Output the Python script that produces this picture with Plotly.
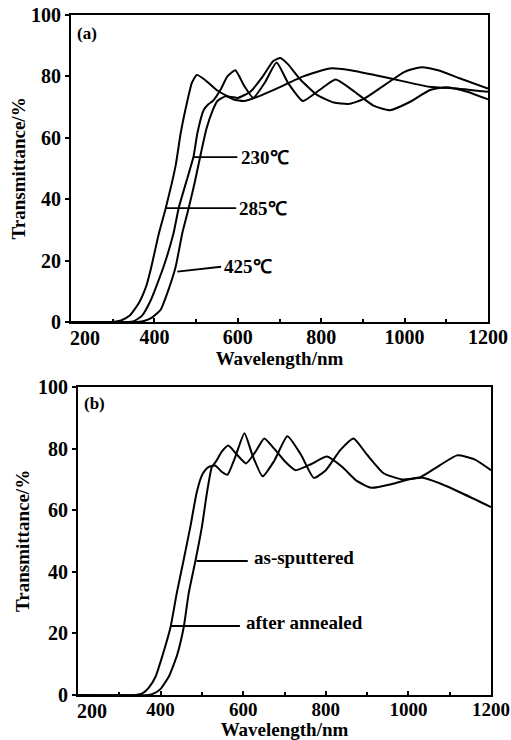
import plotly.graph_objects as go

# ---------------- Panel (a) data ----------------
wl_a_285 = [200, 300, 320, 340, 362, 380, 391, 411, 427, 451, 463, 479, 490, 502, 520, 550, 590, 615,
            650, 693, 757, 821, 870, 964, 1059, 1130, 1200]
tr_a_285 = [0, 0, 0.5, 2, 6, 11.5, 17, 29, 37, 51, 61.5, 72, 78, 80.5, 79, 75.5, 72.5, 72,
            73.5, 76, 80, 82.6, 82, 79.4, 76.6, 76, 75]

wl_a_230 = [200, 330, 351, 370, 391, 422, 446, 458, 475, 494, 503, 518, 530, 540, 560, 575, 594, 615,
            637, 665, 693, 720, 756, 795, 835, 880, 925, 965, 1010, 1060, 1100, 1150, 1200]
tr_a_230 = [0, 0, 0.3, 2, 7, 18, 29, 37, 45, 54, 61.5, 69, 71, 72, 76, 80, 82, 77,
            73, 78, 84.5, 78, 72, 75.5, 79, 75, 70.5, 69, 71.5, 75.5, 76.5, 75, 72.5]

wl_a_425 = [200, 360, 375, 395, 415, 435, 451, 467, 482, 496, 510, 525, 540, 551, 570, 600, 630, 660,
            685, 702, 720, 750, 790, 830, 865, 900, 950, 1000, 1040, 1080, 1130, 1200]
tr_a_425 = [0, 0, 0.3, 1.5, 4, 11, 18, 29, 37, 45, 54, 63, 69, 72, 73.5, 73, 75, 80,
            85, 86, 84, 79, 74, 71.5, 71, 72.5, 77, 81.5, 83, 82, 79.5, 76]

# ---------------- Panel (b) data ----------------
wl_b_ann = [200, 340, 356, 372, 388, 405, 424, 439, 456, 472, 487, 499, 508, 516, 532, 548, 562, 580,
            603, 622, 647, 675, 707, 740, 771, 800, 835, 867, 900, 940, 985, 1030, 1075, 1118, 1160, 1200]
tr_b_ann = [0, 0, 0.5, 2.5, 6, 13, 22, 33, 44, 54.6, 65.5, 71, 73, 74, 74.5, 72.5, 71.5, 77,
            85, 78, 71, 76, 84, 78, 70.5, 73, 79.5, 83.3, 78, 72, 70, 70.8, 74.5, 77.8, 76.5, 73]

wl_b_asp = [200, 370, 384, 400, 420, 440, 456, 468, 485, 500, 512, 524, 535, 548, 564, 585, 607, 630,
            651, 675, 700, 727, 765, 803, 840, 875, 910, 960, 1000, 1034, 1080, 1130, 1200]
tr_b_asp = [0, 0, 0.5, 2, 6, 13, 22, 33, 44, 54.6, 65.5, 74, 76, 79, 81, 78, 75.2, 79,
            83.3, 80, 76, 73, 75, 77.4, 74, 69.5, 67.3, 68.5, 70, 70.5, 68.5, 65.5, 61]

x_ticks = [400, 600, 800, 1000, 1200]
x_first_tick = 200
y_ticks = [0, 20, 40, 60, 80, 100]

FONT = "Liberation Serif"
line_style = dict(color="black", width=2, shape="spline", smoothing=0.5)

fig = go.Figure()
for wl, tr, name in [(wl_a_285, tr_a_285, "285℃"), (wl_a_230, tr_a_230, "230℃"), (wl_a_425, tr_a_425, "425℃")]:
    fig.add_trace(go.Scatter(x=wl, y=tr, mode="lines", line=line_style, name=name,
                             xaxis="x", yaxis="y", showlegend=False))
for wl, tr, name in [(wl_b_ann, tr_b_ann, "after annealed"), (wl_b_asp, tr_b_asp, "as-sputtered")]:
    fig.add_trace(go.Scatter(x=wl, y=tr, mode="lines", line=line_style, name=name,
                             xaxis="x2", yaxis="y2", showlegend=False))

W, H = 511, 740


def dx(px):
    return px / W


def dy(py):
    return 1 - py / H


tick_font = dict(family=FONT, size=20, color="black", weight="bold")
tick_font_b = dict(family=FONT, size=19, color="black", weight="bold")
title_font = dict(family=FONT, size=19, color="black", weight="bold")
axis_common = dict(showline=True, linecolor="black", linewidth=2, mirror=True, showgrid=False,
                   zeroline=False, automargin=False, ticklabeloverflow="allow",
                   tickfont=tick_font, tickcolor="black")

xa = dict(axis_common, range=[200, 1200], tickvals=x_ticks, ticks="inside", ticklen=4, tickwidth=1.5,
          ticklabelstandoff=-4,
          minor=dict(ticks="inside", ticklen=3, tickvals=[200, 300, 500, 700, 900, 1100], tickcolor="black"),
          title=dict(text="Wavelength/nm", font=title_font, standoff=0))
ya = dict(axis_common, range=[0, 100], tickvals=y_ticks, ticks="outside", ticklen=4, tickwidth=1.5)

fig.update_layout(
    template="none",
    width=W, height=H, autosize=False,
    paper_bgcolor="white", plot_bgcolor="white",
    margin=dict(l=0, r=0, t=0, b=0),
    xaxis=dict(xa, domain=[dx(71), dx(488)], anchor="y"),
    yaxis=dict(ya, domain=[dy(322), dy(15)], anchor="x"),
    xaxis2=dict(xa, domain=[dx(78), dx(491)], anchor="y2", tickfont=tick_font_b),
    yaxis2=dict(ya, domain=[dy(695), dy(387)], anchor="x2"),
)

lab_font = dict(family=FONT, size=19, color="black", weight="bold")
ann = []
shp = []
# y-axis titles (rotated), placed beside each panel
ann.append(dict(x=dx(18), y=(dy(322) + dy(15)) / 2, xref="paper", yref="paper", text="Transmittance/%",
                textangle=-90, showarrow=False, xanchor="center", yanchor="middle", font=title_font))
ann.append(dict(x=dx(22), y=(dy(695) + dy(387)) / 2, xref="paper", yref="paper", text="Transmittance/%",
                textangle=-90, showarrow=False, xanchor="center", yanchor="middle", font=title_font))

# first x tick label, set slightly right of the corner as in the reference
for xr, yr in [("x", "y"), ("x2", "y2")]:
    ann.append(dict(x=x_first_tick, y=0, xref=xr, yref=yr, text=str(x_first_tick), showarrow=False,
                    xanchor="left", yanchor="top", xshift=-3, yshift=-3, font=tick_font))

# panel labels
ann.append(dict(x=210, y=94, xref="x", yref="y", text="(a)", showarrow=False, xanchor="left",
                font=dict(family=FONT, size=17, color="black", weight="bold")))
ann.append(dict(x=210, y=94.5, xref="x2", yref="y2", text="(b)", showarrow=False, xanchor="left",
                font=dict(family=FONT, size=17, color="black", weight="bold")))

# pointer lines + labels, panel (a)
ptr_a = [("230℃", 494, 599, 53.7, 53.7), ("285℃", 427, 596, 37.1, 37.1), ("425℃", 455, 560, 16.4, 18.0)]
for text, x0, x1, y0, y1 in ptr_a:
    shp.append(dict(type="line", xref="x", yref="y", x0=x0, x1=x1, y0=y0, y1=y1,
                    line=dict(color="black", width=1.8)))
    ann.append(dict(x=x1 + 3, y=y1, xref="x", yref="y", text=text, showarrow=False, xanchor="left",
                    font=lab_font))

# pointer lines + labels, panel (b)
ptr_b = [("as-sputtered", 487, 611, 43.5), ("after annealed", 425, 592, 22.4)]
for text, x0, x1, y0 in ptr_b:
    shp.append(dict(type="line", xref="x2", yref="y2", x0=x0, x1=x1, y0=y0, y1=y0,
                    line=dict(color="black", width=1.8)))
    ann.append(dict(x=x1 + 10, y=y0 + 1.2, xref="x2", yref="y2", text=text, showarrow=False,
                    xanchor="left", font=lab_font))

fig.update_layout(annotations=ann, shapes=shp)
fig.write_html("out.html", config={"displayModeBar": False},
               post_script="document.body.style.margin='0px';document.body.style.overflow='hidden';")
